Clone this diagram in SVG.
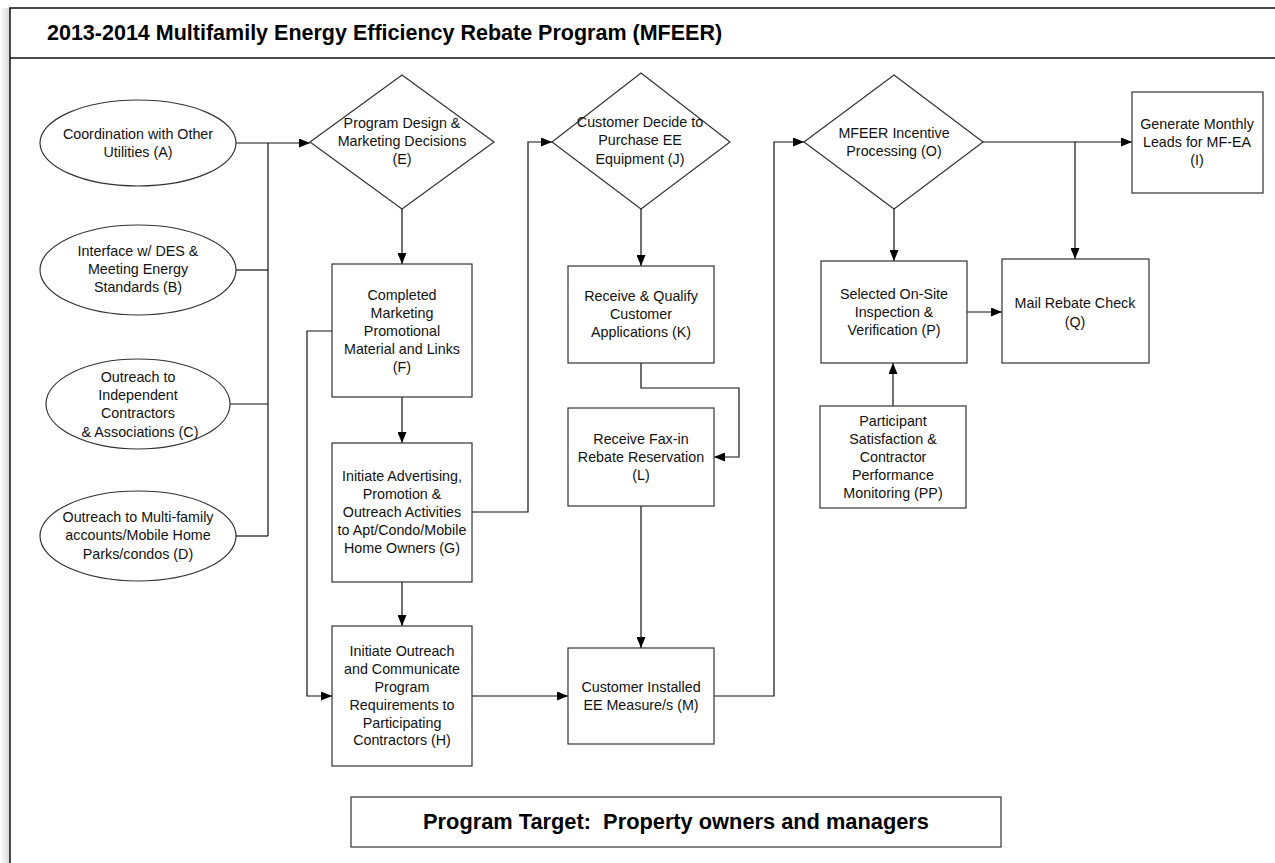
<svg xmlns="http://www.w3.org/2000/svg" width="1275" height="863" viewBox="0 0 1275 863">
  <defs>
    <marker id="arrow" markerUnits="userSpaceOnUse" markerWidth="11" markerHeight="9" refX="11" refY="4.5" orient="auto">
      <path d="M0,0 L11,4.5 L0,9 z" fill="#000"/>
    </marker>
    <linearGradient id="edgeShade" x1="0" y1="0" x2="1" y2="0">
      <stop offset="0" stop-color="#ffffff"/>
      <stop offset="1" stop-color="#d4d4d4"/>
    </linearGradient>
    <style>
      .frame{fill:none;stroke:#111;stroke-width:1.5}
      .box{fill:#fff;stroke:#333;stroke-width:1.2}
      .c{fill:none;stroke:#111;stroke-width:1.2}
      .arr{marker-end:url(#arrow)}
      .t{font-family:"Liberation Sans",Arial,sans-serif;font-size:14.3px;fill:#111;text-anchor:middle}
      .title{font-family:"Liberation Sans",Arial,sans-serif;font-size:21.5px;font-weight:bold;fill:#000}
      .target{font-family:"Liberation Sans",Arial,sans-serif;font-size:21.8px;font-weight:bold;fill:#000;text-anchor:middle;white-space:pre}
    </style>
  </defs>

  <rect width="1275" height="863" fill="#fff"/>

  <!-- page frame with header band -->
  <g id="frame">
    <rect x="0" y="8" width="10" height="855" fill="url(#edgeShade)"/>
    <path class="frame" d="M1275,8 H10 V863"/>
    <path class="frame" d="M10,58 H1275"/>
    <text class="title" x="47" y="40">2013-2014 Multifamily Energy Efficiency Rebate Program (MFEER)</text>
  </g>

  <!-- connectors -->
  <g id="connectors">
    <path class="c arr" d="M236,143 H310"/>
    <path class="c" d="M268,143 V536"/>
    <path class="c" d="M236,270 H268"/>
    <path class="c" d="M230,404 H268"/>
    <path class="c" d="M236,536 H268"/>
    <path class="c arr" d="M402,209 V264"/>
    <path class="c arr" d="M402,397 V443"/>
    <path class="c arr" d="M402,582 V626"/>
    <path class="c arr" d="M332,331 H307 V696 H332"/>
    <path class="c arr" d="M472,512 H528 V142 H552"/>
    <path class="c arr" d="M641,209 V266"/>
    <path class="c arr" d="M641,363 V388 H739 V457 H714"/>
    <path class="c arr" d="M641,506 V648"/>
    <path class="c arr" d="M472,696 H568"/>
    <path class="c arr" d="M714,696 H774 V142 H804"/>
    <path class="c arr" d="M983,142 H1132"/>
    <path class="c arr" d="M1075,142 V259"/>
    <path class="c arr" d="M894,209 V261"/>
    <path class="c arr" d="M967,312 H1002"/>
    <path class="c arr" d="M893,406 V363"/>
  </g>

  <!-- input ellipses -->
  <g id="nodeA">
    <ellipse class="box" cx="138" cy="143" rx="98" ry="43"/>
    <text class="t" x="138" y="139">Coordination with Other</text>
    <text class="t" x="138" y="157">Utilities (A)</text>
  </g>
  <g id="nodeB">
    <ellipse class="box" cx="138" cy="270" rx="98" ry="45"/>
    <text class="t" x="138" y="256">Interface w/ DES &amp;</text>
    <text class="t" x="138" y="274">Meeting Energy</text>
    <text class="t" x="138" y="292">Standards (B)</text>
  </g>
  <g id="nodeC">
    <ellipse class="box" cx="138" cy="404" rx="92" ry="45"/>
    <text class="t" x="138" y="382">Outreach to</text>
    <text class="t" x="138" y="400">Independent</text>
    <text class="t" x="138" y="418">Contractors</text>
    <text class="t" x="140" y="437">&amp; Associations (C)</text>
  </g>
  <g id="nodeD">
    <ellipse class="box" cx="138" cy="536" rx="98" ry="45"/>
    <text class="t" x="138" y="522">Outreach to Multi-family</text>
    <text class="t" x="138" y="540">accounts/Mobile Home</text>
    <text class="t" x="138" y="559">Parks/condos (D)</text>
  </g>

  <!-- decision diamonds -->
  <g id="nodeE">
    <polygon class="box" points="402,75 494,142 402,209 310,142"/>
    <text class="t" x="402" y="128">Program Design &amp;</text>
    <text class="t" x="402" y="146">Marketing Decisions</text>
    <text class="t" x="402" y="164">(E)</text>
  </g>
  <g id="nodeJ">
    <polygon class="box" points="641,73 730,142 641,209 552,142"/>
    <text class="t" x="640" y="127">Customer Decide to</text>
    <text class="t" x="640" y="145">Purchase EE</text>
    <text class="t" x="640" y="164">Equipment (J)</text>
  </g>
  <g id="nodeO">
    <polygon class="box" points="894,75 983,142 894,209 804,142"/>
    <text class="t" x="894" y="138">MFEER Incentive</text>
    <text class="t" x="894" y="156">Processing (O)</text>
  </g>

  <!-- marketing column -->
  <g id="nodeF">
    <rect class="box" x="332" y="264" width="140" height="133"/>
    <text class="t" x="402" y="300">Completed</text>
    <text class="t" x="402" y="318">Marketing</text>
    <text class="t" x="402" y="336">Promotional</text>
    <text class="t" x="402" y="354">Material and Links</text>
    <text class="t" x="402" y="372">(F)</text>
  </g>
  <g id="nodeG">
    <rect class="box" x="332" y="443" width="140" height="139"/>
    <text class="t" x="402" y="481">Initiate Advertising,</text>
    <text class="t" x="402" y="499">Promotion &amp;</text>
    <text class="t" x="402" y="517">Outreach Activities</text>
    <text class="t" x="402" y="535">to Apt/Condo/Mobile</text>
    <text class="t" x="402" y="553">Home Owners (G)</text>
  </g>
  <g id="nodeH">
    <rect class="box" x="332" y="626" width="140" height="140"/>
    <text class="t" x="402" y="656">Initiate Outreach</text>
    <text class="t" x="402" y="674">and Communicate</text>
    <text class="t" x="402" y="692">Program</text>
    <text class="t" x="402" y="710">Requirements to</text>
    <text class="t" x="402" y="728">Participating</text>
    <text class="t" x="402" y="745">Contractors (H)</text>
  </g>

  <!-- customer column -->
  <g id="nodeK">
    <rect class="box" x="568" y="266" width="146" height="97"/>
    <text class="t" x="641" y="301">Receive &amp; Qualify</text>
    <text class="t" x="641" y="319">Customer</text>
    <text class="t" x="641" y="337">Applications (K)</text>
  </g>
  <g id="nodeL">
    <rect class="box" x="568" y="408" width="146" height="98"/>
    <text class="t" x="641" y="444">Receive Fax-in</text>
    <text class="t" x="641" y="462">Rebate Reservation</text>
    <text class="t" x="641" y="480">(L)</text>
  </g>
  <g id="nodeM">
    <rect class="box" x="568" y="648" width="146" height="96"/>
    <text class="t" x="641" y="692">Customer Installed</text>
    <text class="t" x="641" y="710">EE Measure/s (M)</text>
  </g>

  <!-- incentive processing column -->
  <g id="nodeP">
    <rect class="box" x="821" y="261" width="146" height="102"/>
    <text class="t" x="894" y="299">Selected On-Site</text>
    <text class="t" x="894" y="317">Inspection &amp;</text>
    <text class="t" x="894" y="335">Verification (P)</text>
  </g>
  <g id="nodeQ">
    <rect class="box" x="1002" y="259" width="147" height="104"/>
    <text class="t" x="1075" y="308">Mail Rebate Check</text>
    <text class="t" x="1075" y="327">(Q)</text>
  </g>
  <g id="nodeI">
    <rect class="box" x="1132" y="92" width="131" height="101"/>
    <text class="t" x="1197" y="129">Generate Monthly</text>
    <text class="t" x="1197" y="147">Leads for MF-EA</text>
    <text class="t" x="1197" y="165">(I)</text>
  </g>
  <g id="nodePP">
    <rect class="box" x="820" y="406" width="146" height="102"/>
    <text class="t" x="893" y="426">Participant</text>
    <text class="t" x="893" y="444">Satisfaction &amp;</text>
    <text class="t" x="893" y="462">Contractor</text>
    <text class="t" x="893" y="480">Performance</text>
    <text class="t" x="893" y="498">Monitoring (PP)</text>
  </g>

  <!-- target audience banner -->
  <g id="target">
    <rect class="box" x="351" y="797" width="650" height="50"/>
    <text class="target" x="676" y="829">Program Target:  Property owners and managers</text>
  </g>
</svg>
